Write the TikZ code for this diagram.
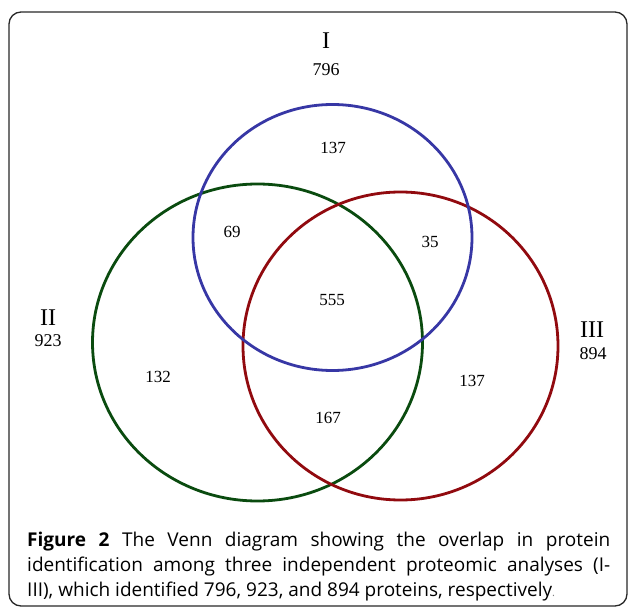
\documentclass[tikz,border=0pt]{standalone}
\usepackage{fontspec}
\setmainfont{Liberation Serif}
\newfontfamily\capfont{Open Sans}
\definecolor{vblue}{RGB}{55,55,165}
\definecolor{vgreen}{RGB}{10,75,15}
\definecolor{vred}{RGB}{145,10,15}
\definecolor{frame}{RGB}{40,40,40}
\begin{document}
\begin{tikzpicture}[x=1pt,y=-1pt,
  ring/.style={line width=2.8pt},
  num/.style={font=\fontsize{17}{19}\selectfont, inner sep=0pt},
  tot/.style={font=\fontsize{18}{20}\selectfont, inner sep=0pt},
  roman/.style={font=\fontsize{24}{26}\selectfont, inner sep=0pt}]
\useasboundingbox (0,0) rectangle (629,609);
\draw[frame, line width=1.3pt, rounded corners=12pt] (9,12) rectangle (627,606);
% circles
\draw[ring, vgreen] (257.5,342.5) ellipse [x radius=165, y radius=158.5];
\draw[ring, vred] (400.5,346) ellipse [x radius=157.5, y radius=154];
\draw[ring, vblue] (332.5,237.5) ellipse [x radius=139.5, y radius=133];
% set labels
\node[roman] (lI) at (326,41) {I};
\node[tot] (tI) at (326,70) {796};
\node[roman] (lII) at (48,318) {II};
\node[tot] (tII) at (48,341) {923};
\node[roman] (lIII) at (592,330) {III};
\node[tot] (tIII) at (593,354) {894};
% region numbers
\node[num] (a) at (333,148) {137};
\node[num] (ab) at (232,232) {69};
\node[num] (ac) at (430,242) {35};
\node[num] (abc) at (332,300) {555};
\node[num] (b) at (158,377) {132};
\node[num] (c) at (472,381) {137};
\node[num] (bc) at (328,418) {167};
% caption
\node[anchor=base west, inner sep=0pt, font=\capfont\fontsize{19}{25}\selectfont, align=left] (cap) at (27,596) {%
\makebox[583pt][s]{\textbf{Figure 2} The Venn diagram showing the overlap in protein}\\
\makebox[583pt][s]{identification among three independent proteomic analyses (I-}\\
III), which identified 796, 923, and 894 proteins, respectively{\color{gray}\fontsize{11}{11}\selectfont.}};
\end{tikzpicture}
\end{document}
